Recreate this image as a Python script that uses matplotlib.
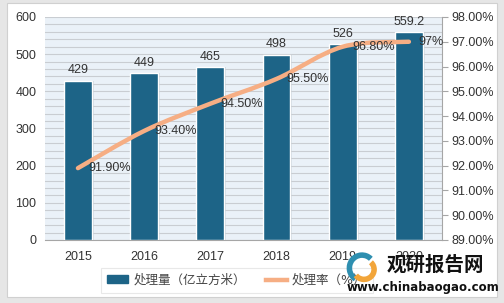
import numpy as np
import matplotlib
matplotlib.use("Agg")
from matplotlib import pyplot as plt
from matplotlib.path import Path
from matplotlib.patches import PathPatch, Rectangle, Arc

plt.rcParams['font.family'] = ['DejaVu Sans', 'Noto Sans CJK SC']

years = ['2015', '2016', '2017', '2018', '2019', '2020']
volume = [429, 449, 465, 498, 526, 559.2]
volume_labels = ['429', '449', '465', '498', '526', '559.2']
rate = [91.9, 93.4, 94.5, 95.5, 96.8, 97.0]
rate_labels = ['91.90%', '93.40%', '94.50%', '95.50%', '96.80%', '97%']

bar_color = '#1D6487'
line_color = '#F6AE84'
text_color = '#333333'
num_font = ['Liberation Sans', 'DejaVu Sans']

fig = plt.figure(figsize=(5.04, 3.03), dpi=100)
fig.patch.set_facecolor('#E6E6E6')
# white card behind everything
fig.patches.append(Rectangle((7 / 504, 6 / 303), 490 / 504, 294 / 303, transform=fig.transFigure,
                             facecolor='white', edgecolor='#D0D0D0', lw=0.8, zorder=-10))

ax = fig.add_axes([0.089, 0.208, 0.788, 0.736])
ax.set_facecolor('#EAF1F8')
x = np.arange(len(years))

ax.set_ylim(0, 600)
ax.set_xlim(-0.5, len(years) - 0.5)
ax.set_yticks(np.arange(0, 601, 100))
ax.set_yticks(np.arange(0, 601, 20), minor=True)
ax.grid(axis='y', which='both', color='#C9CDD2', lw=0.8)
ax.set_axisbelow(True)

# bars with a soft shadow
ax.bar(x + 0.02, volume, width=0.44, color='#B8C2CA', alpha=0.5, zorder=2)
ax.bar(x, volume, width=0.42, color=bar_color, edgecolor='white', lw=1.0, zorder=3)
for xi, v, lab in zip(x, volume, volume_labels):
    ax.text(xi, v + 12, lab, ha='center', va='bottom', fontsize=9, color=text_color,
            family=num_font, zorder=5)

for s in ['top', 'right', 'left']:
    ax.spines[s].set_visible(False)
ax.spines['bottom'].set_color('#A6A6A6')
ax.tick_params(axis='y', which='both', length=0, labelsize=9, colors=text_color, pad=6)
ax.tick_params(axis='x', length=0, labelsize=9, colors=text_color, pad=8)
ax.set_xticks(x)
ax.set_xticklabels(years)
for t in ax.get_xticklabels() + ax.get_yticklabels():
    t.set_family(num_font)

ax2 = ax.twinx()
ax2.set_ylim(89, 98)
ax2.set_yticks(np.arange(89, 98.1, 1))
ax2.set_yticklabels(['%.2f%%' % t for t in np.arange(89, 98.1, 1)], family=num_font)
for s in ['top', 'left', 'bottom']:
    ax2.spines[s].set_visible(False)
ax2.spines['right'].set_color('#A6A6A6')
ax2.tick_params(axis='y', length=4, color='#A6A6A6', labelsize=9, labelcolor=text_color, pad=3)

# smooth rate line (Catmull-Rom as cubic Bezier through the data points)
pts = np.column_stack([x, rate]).astype(float)
verts = [tuple(pts[0])]
codes = [Path.MOVETO]
n = len(pts)
for i in range(n - 1):
    p0 = pts[i - 1] if i > 0 else pts[i]
    p1 = pts[i]
    p2 = pts[i + 1]
    p3 = pts[i + 2] if i + 2 < n else pts[i + 1]
    c1 = p1 + (p2 - p0) / 6.0
    c2 = p2 - (p3 - p1) / 6.0
    verts += [tuple(c1), tuple(c2), tuple(p2)]
    codes += [Path.CURVE4] * 3
ax2.add_patch(PathPatch(Path(verts, codes), facecolor='none', edgecolor=line_color,
                        lw=3.2, capstyle='round', zorder=4))
for xi, r, lab in zip(x, rate, rate_labels):
    ax2.text(xi + 0.15, r, lab, ha='left', va='center', fontsize=9, color=text_color,
             family=num_font, zorder=6)

# legend
h1 = Rectangle((0, 0), 1, 1, color=bar_color)
h2 = plt.Line2D([0], [0], color=line_color, lw=3.2)
leg = fig.legend([h1, h2], ['处理量（亿立方米）', '处理率（%）'], ncol=2,
                 loc='center', bbox_to_anchor=(0.47, 0.075), frameon=True,
                 fontsize=9, handlelength=1.7, handleheight=0.6, handletextpad=0.4,
                 columnspacing=1.6, borderpad=0.5, fancybox=False)
leg.get_frame().set_edgecolor('#E3E3E3')
leg.get_frame().set_linewidth(0.8)
for t in leg.get_texts():
    t.set_color('#444444')

# watermark logo
wx, wy = 362 / 504, 1 - 268 / 303
fig.patches.append(Arc((wx, wy), 0.05, 0.085, theta1=60, theta2=250, transform=fig.transFigure,
                       color='#2E8FB0', lw=4, zorder=8))
fig.patches.append(Arc((wx + 0.004, wy - 0.005), 0.04, 0.065, theta1=230, theta2=420,
                       transform=fig.transFigure, color='#F2A53A', lw=4, zorder=8))
fig.text(387 / 504, 1 - 265 / 303, '观研报告网', fontsize=14, fontweight='bold', color='#111111',
         family=['Noto Sans CJK SC', 'DejaVu Sans'], ha='left', va='center', zorder=9)
fig.text(347 / 504, 1 - 288 / 303, 'www.chinabaogao.com', fontsize=8.5, fontweight='bold',
         color='#111111', ha='left', va='center', zorder=9)

fig.savefig('out.png', dpi=100, facecolor=fig.get_facecolor())
